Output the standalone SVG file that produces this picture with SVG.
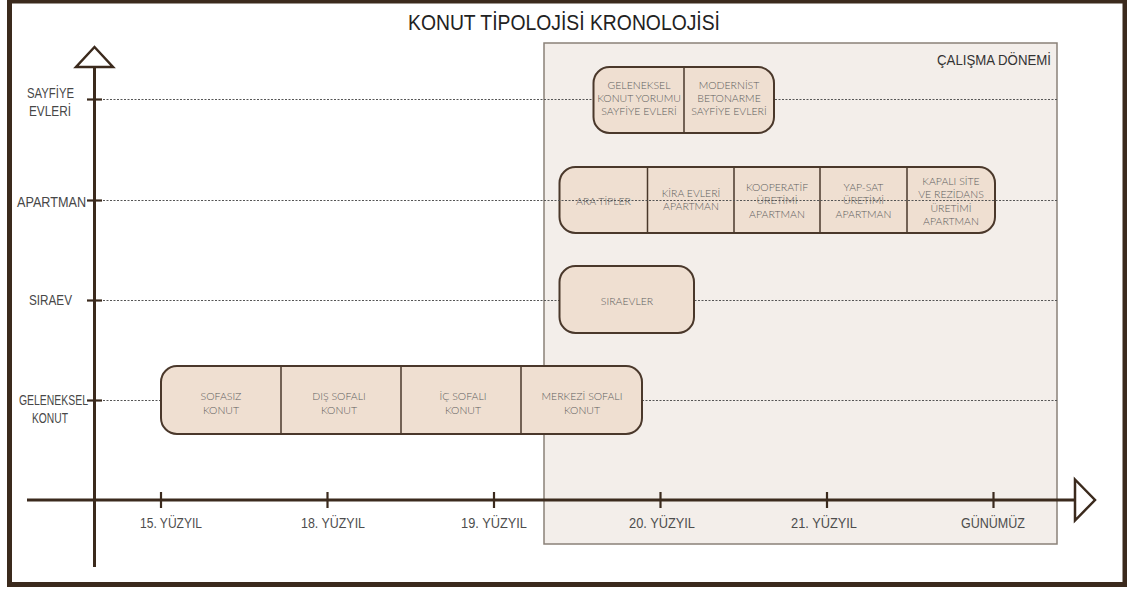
<svg xmlns="http://www.w3.org/2000/svg" width="1127" height="590" viewBox="0 0 1127 590">
<defs>
<style>
.frame{fill:#ffffff;stroke:#3b2a1d;stroke-width:5}
.period{fill:#f3eeea;stroke:#8a8178;stroke-width:1.5}
.axis{stroke:#3b2a1d;stroke-width:3;fill:none}
.head{stroke:#3b2a1d;stroke-width:2.5;fill:#ffffff;stroke-linejoin:miter}
.tick{stroke:#3b2a1d;stroke-width:2.2}
.guide{stroke:#555555;stroke-width:1;stroke-dasharray:2 1.5;fill:none}
.box{fill:#efdfd1;stroke:#4a382b;stroke-width:2}
.div{stroke:#4a382b;stroke-width:1.5}
.nt{font-family:Lato,'Liberation Sans',sans-serif;font-weight:300;font-size:10.5px;fill:#5e5e5e;text-anchor:middle}
.lab{font-family:'Liberation Sans',Arial,sans-serif;font-size:14px;fill:#474747;text-anchor:middle}
.axl{font-family:'Liberation Sans',Arial,sans-serif;font-size:15px;fill:#4d4d4d;text-anchor:middle}
.title{font-family:'Liberation Sans',Arial,sans-serif;font-size:22px;fill:#222222;text-anchor:middle}
.ptitle{font-family:'Liberation Sans',Arial,sans-serif;font-size:14px;fill:#333333;text-anchor:end}
</style>
</defs>

<rect class="frame" x="9.5" y="1" width="1115.5" height="583.5"/>
<text class="title" x="564" y="29.5" textLength="312" lengthAdjust="spacingAndGlyphs">KONUT TİPOLOJİSİ KRONOLOJİSİ</text>

<g id="study-period">
<rect class="period" x="544" y="43" width="513" height="501"/>
<text class="ptitle" x="1051" y="65" textLength="114" lengthAdjust="spacingAndGlyphs">ÇALIŞMA DÖNEMİ</text>
</g>

<g id="guides">
<line class="guide" x1="103" y1="99.5" x2="1057" y2="99.5"/>
<line class="guide" x1="103" y1="300.5" x2="1057" y2="300.5"/>
<line class="guide" x1="103" y1="400.5" x2="1057" y2="400.5"/>
</g>

<g id="node-sayfiye">
<rect class="box" x="593.5" y="67" width="180.5" height="66" rx="16"/>
<line class="div" x1="684" y1="67" x2="684" y2="133"/>
<text class="nt" x="639" y="89">GELENEKSEL</text>
<text class="nt" x="639" y="102">KONUT YORUMU</text>
<text class="nt" x="639" y="115">SAYFİYE EVLERİ</text>
<text class="nt" x="729" y="89">MODERNİST</text>
<text class="nt" x="729" y="102">BETONARME</text>
<text class="nt" x="729" y="115">SAYFİYE EVLERİ</text>
</g>

<g id="node-apartman">
<rect class="box" x="559.5" y="167" width="435.5" height="66" rx="16"/>
<line class="div" x1="647.5" y1="167" x2="647.5" y2="233"/>
<line class="div" x1="734" y1="167" x2="734" y2="233"/>
<line class="div" x1="820" y1="167" x2="820" y2="233"/>
<line class="div" x1="907" y1="167" x2="907" y2="233"/>
<text class="nt" x="603.5" y="205">ARA TİPLER</text>
<text class="nt" x="691" y="197">KİRA EVLERİ</text>
<text class="nt" x="691" y="210">APARTMAN</text>
<text class="nt" x="777" y="191">KOOPERATİF</text>
<text class="nt" x="777" y="204">ÜRETİMİ</text>
<text class="nt" x="777" y="217.5">APARTMAN</text>
<text class="nt" x="863.5" y="191">YAP-SAT</text>
<text class="nt" x="863.5" y="204">ÜRETİMİ</text>
<text class="nt" x="863.5" y="217.5">APARTMAN</text>
<text class="nt" x="951" y="184.5">KAPALI SİTE</text>
<text class="nt" x="951" y="198">VE REZİDANS</text>
<text class="nt" x="951" y="211.5">ÜRETİMİ</text>
<text class="nt" x="951" y="225">APARTMAN</text>
</g>

<g id="node-siraev">
<rect class="box" x="559.5" y="266" width="134.5" height="67" rx="16"/>
<text class="nt" x="627" y="305">SIRAEVLER</text>
</g>

<g id="node-geleneksel">
<rect class="box" x="161" y="366" width="481" height="68" rx="16"/>
<line class="div" x1="281" y1="366" x2="281" y2="434"/>
<line class="div" x1="401" y1="366" x2="401" y2="434"/>
<line class="div" x1="521" y1="366" x2="521" y2="434"/>
<text class="nt" x="221" y="400">SOFASIZ</text>
<text class="nt" x="221" y="414">KONUT</text>
<text class="nt" x="339" y="400">DIŞ SOFALI</text>
<text class="nt" x="339" y="414">KONUT</text>
<text class="nt" x="463" y="400">İÇ SOFALI</text>
<text class="nt" x="463" y="414">KONUT</text>
<text class="nt" x="582" y="400">MERKEZİ SOFALI</text>
<text class="nt" x="582" y="414">KONUT</text>
</g>

<g id="connectors">
<line class="guide" x1="103" y1="200.5" x2="1057" y2="200.5"/>
<line class="axis" x1="94.5" y1="67" x2="94.5" y2="567"/>
<polygon class="head" points="94.5,47 113,67 76,67"/>
<line class="axis" x1="27" y1="500" x2="1075" y2="500"/>
<polygon class="head" points="1075,479.5 1095,500 1075,520.5"/>
<line class="tick" x1="87" y1="99.5" x2="102" y2="99.5"/>
<line class="tick" x1="87" y1="200.5" x2="102" y2="200.5"/>
<line class="tick" x1="87" y1="300.5" x2="102" y2="300.5"/>
<line class="tick" x1="87" y1="400.5" x2="102" y2="400.5"/>
<line class="tick" x1="161" y1="492" x2="161" y2="508"/>
<line class="tick" x1="327.5" y1="492" x2="327.5" y2="508"/>
<line class="tick" x1="494" y1="492" x2="494" y2="508"/>
<line class="tick" x1="660.5" y1="492" x2="660.5" y2="508"/>
<line class="tick" x1="827" y1="492" x2="827" y2="508"/>
<line class="tick" x1="993.5" y1="492" x2="993.5" y2="508"/>
</g>

<g id="y-labels">
<text class="lab" x="50.5" y="98" textLength="47" lengthAdjust="spacingAndGlyphs">SAYFİYE</text>
<text class="lab" x="50" y="116" textLength="42" lengthAdjust="spacingAndGlyphs">EVLERİ</text>
<text class="lab" x="51.5" y="207" textLength="69" lengthAdjust="spacingAndGlyphs">APARTMAN</text>
<text class="lab" x="50.5" y="305" textLength="43" lengthAdjust="spacingAndGlyphs">SIRAEV</text>
<text class="lab" x="53.5" y="405" textLength="69" lengthAdjust="spacingAndGlyphs">GELENEKSEL</text>
<text class="lab" x="50" y="423" textLength="36" lengthAdjust="spacingAndGlyphs">KONUT</text>
</g>

<g id="x-labels">
<text class="axl" x="171" y="528" textLength="62" lengthAdjust="spacingAndGlyphs">15. YÜZYIL</text>
<text class="axl" x="333" y="528" textLength="64" lengthAdjust="spacingAndGlyphs">18. YÜZYIL</text>
<text class="axl" x="494" y="528" textLength="66" lengthAdjust="spacingAndGlyphs">19. YÜZYIL</text>
<text class="axl" x="662" y="528" textLength="66" lengthAdjust="spacingAndGlyphs">20. YÜZYIL</text>
<text class="axl" x="824" y="528" textLength="66" lengthAdjust="spacingAndGlyphs">21. YÜZYIL</text>
<text class="axl" x="993" y="528" textLength="64" lengthAdjust="spacingAndGlyphs">GÜNÜMÜZ</text>
</g>
</svg>
